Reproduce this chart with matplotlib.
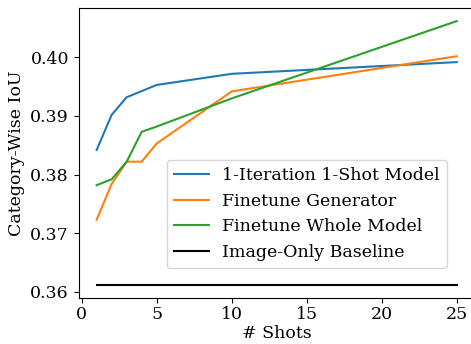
import matplotlib as mpl
import matplotlib.pyplot as plt

mpl.rcParams["font.family"] = "DejaVu Serif"
mpl.rcParams["font.size"] = 12.5

SHOTS_ONESHOT = [1, 2, 3, 5, 10, 25]
IOU_ONESHOT = [0.3842, 0.3902, 0.3932, 0.3953, 0.3972, 0.3992]

SHOTS_FT = [1, 2, 3, 4, 5, 10, 25]
IOU_FT_GEN = [0.3723, 0.3784, 0.3822, 0.3822, 0.3853, 0.3942, 0.4002]
IOU_FT_WHOLE = [0.3782, 0.3792, 0.3822, 0.3873, 0.3882, 0.3930, 0.4062]

SHOTS_BASE = [1, 25]
IOU_BASE = [0.3612, 0.3612]

LABELS = [
    "1-Iteration 1-Shot Model",
    "Finetune Generator",
    "Finetune Whole Model",
    "Image-Only Baseline",
]

fig = plt.figure(figsize=(4.71, 3.44), dpi=100)
ax = fig.add_axes([0.167, 0.134, 0.841, 0.843])

ax.plot(SHOTS_ONESHOT, IOU_ONESHOT, color="tab:blue", label=LABELS[0])
ax.plot(SHOTS_FT, IOU_FT_GEN, color="tab:orange", label=LABELS[1])
ax.plot(SHOTS_FT, IOU_FT_WHOLE, color="tab:green", label=LABELS[2])
ax.plot(SHOTS_BASE, IOU_BASE, color="black", label=LABELS[3])

ax.set_xlabel("# Shots", labelpad=2)
ax.set_ylabel("Category-Wise IoU")
ax.set_xticks([0, 5, 10, 15, 20, 25])
ax.set_yticks([0.36, 0.37, 0.38, 0.39, 0.40])
ax.tick_params(axis="x", pad=2)

ax.legend(loc="lower right", bbox_to_anchor=(0.930, 0.103), borderaxespad=0)

fig.savefig("out.png", dpi=100, facecolor="white")
